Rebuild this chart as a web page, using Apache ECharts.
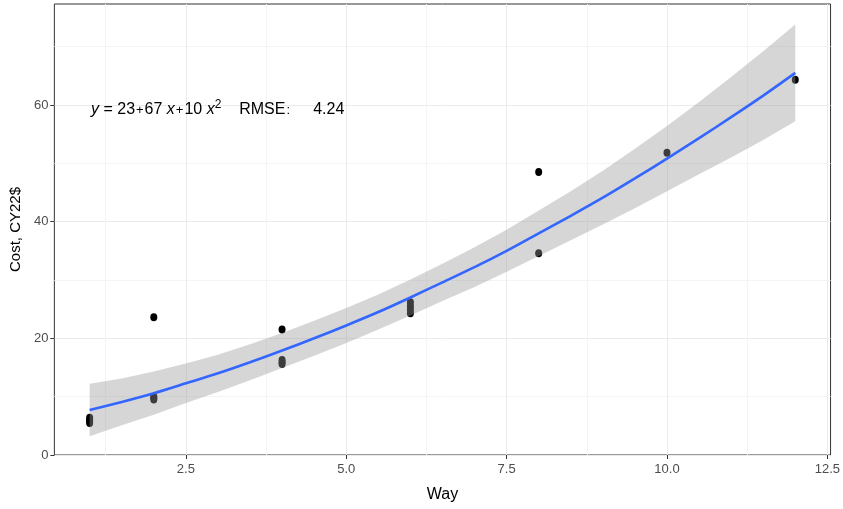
<!DOCTYPE html>
<html>
<head>
<meta charset="utf-8">
<script src="https://cdn.jsdelivr.net/npm/echarts@6/dist/echarts.min.js"></script>
<style>
  html, body { margin: 0; padding: 0; background: #fff; }
  #main { width: 843px; height: 509px; }
</style>
</head>
<body>
<div id="main"></div>
<script>
// observed points (Way, Cost)
var pointWay  = [1, 1, 1, 1, 2, 2, 2, 2, 4, 4, 4, 4, 6, 6, 6, 6, 8, 8, 10, 12];
var pointCost = [5.5, 5.8, 6.1, 6.4, 9.5, 9.8, 10.0, 23.6, 15.6, 15.9, 16.3, 21.5,
                 24.3, 24.9, 25.5, 26.2, 48.5, 34.6, 51.8, 64.3];

// fitted curve and confidence band
var fitWay = [1, 1.5, 2, 2.5, 3, 3.5, 4, 4.5, 5, 5.5, 6, 6.5, 7, 7.5, 8, 8.5, 9, 9.5, 10, 10.5, 11, 11.5, 12];
var fitCost = [7.7, 9.1, 10.6, 12.3, 14.0, 15.9, 17.9, 20.0, 22.2, 24.5, 27.0, 29.6,
               32.2, 35.0, 38.0, 41.0, 44.1, 47.4, 50.8, 54.3, 57.9, 61.6, 65.5];
var bandLower = [3.2, 5.1, 6.9, 8.9, 10.8, 12.8, 14.9, 17.0, 19.2, 21.5, 23.9, 26.4,
                 28.8, 31.4, 34.1, 36.8, 39.5, 42.3, 45.2, 48.1, 51.0, 54.0, 57.2];
var bandUpper = [12.2, 13.1, 14.3, 15.7, 17.2, 19.0, 20.9, 23.0, 25.2, 27.5, 30.1, 32.8,
                 35.6, 38.6, 41.9, 45.2, 48.7, 52.5, 56.4, 60.5, 64.8, 69.2, 73.8];

var xTicks = [2.5, 5.0, 7.5, 10.0, 12.5];
var xMinor = [1.25, 3.75, 6.25, 8.75, 11.25];
var yTicks = [0, 20, 40, 60];
var yMinor = [10, 30, 50, 70];

var chart = echarts.init(document.getElementById("main"));

var labelFont = "'Liberation Sans Narrow', 'Liberation Sans', Arial, sans-serif";
var gridColor = "#ebebeb";

var scatterData = pointWay.map(function (w, i) { return [w, pointCost[i]]; });
var fitData = fitWay.map(function (w, i) { return [w, fitCost[i]]; });
var bandData = fitWay.map(function (w, i) { return [w, bandLower[i], bandUpper[i]]; });

var option = {
  animation: false,
  backgroundColor: "#fff",
  grid: {
    left: 53, top: 4, right: 11, bottom: 54,
    show: true, borderColor: "#333", borderWidth: 1, backgroundColor: "#fff"
  },
  title: {
    left: 86, top: 94,
    text: "{i|y} = 23{p|+}67 {i|x}{p|+}10 {i|x}{s|2}    RMSE{p|:}     4.24",
    textStyle: {
      fontFamily: labelFont, fontSize: 16, color: "#000", fontWeight: "normal",
      rich: {
        i: { fontFamily: labelFont, fontSize: 16, fontStyle: "italic", color: "#000" },
        p: { fontFamily: labelFont, fontSize: 13, color: "#000", padding: [0, 1, 0, 1] },
        s: { fontFamily: labelFont, fontSize: 12, color: "#000", verticalAlign: "top", padding: [0, 0, 10, 0] }
      }
    }
  },
  xAxis: [{
    type: "value", min: 0.45, max: 12.55,
    name: "Way", nameLocation: "middle", nameGap: 32,
    nameTextStyle: { fontFamily: labelFont, fontSize: 16, color: "#000" },
    axisLine: { show: false },
    axisTick: { show: true, length: 4, customValues: xTicks, lineStyle: { color: "#333" } },
    axisLabel: {
      customValues: xTicks, margin: 8, color: "#4d4d4d", fontFamily: labelFont, fontSize: 13,
      formatter: function (v) { return v.toFixed(1); }
    },
    splitLine: { show: true, lineStyle: { color: gridColor, width: 1 } }
  }, {
    type: "value", min: 0.45, max: 12.55, position: "top",
    axisLine: { show: false },
    axisTick: { show: false, customValues: xMinor },
    axisLabel: { show: false, customValues: xMinor },
    splitLine: { show: true, lineStyle: { color: "#f4f4f4", width: 1 } }
  }],
  yAxis: [{
    type: "value", min: 0, max: 77.3,
    name: "Cost, CY22$", nameLocation: "middle", nameGap: 27,
    nameTextStyle: { fontFamily: "'Liberation Sans', Arial, sans-serif", fontSize: 15, color: "#000" },
    axisLine: { show: false },
    axisTick: { show: true, length: 4, customValues: yTicks, lineStyle: { color: "#333" } },
    axisLabel: { customValues: yTicks, margin: 6, color: "#4d4d4d", fontFamily: labelFont, fontSize: 13 },
    splitLine: { show: true, lineStyle: { color: gridColor, width: 1 } }
  }, {
    type: "value", min: 0, max: 77.3, position: "right",
    axisLine: { show: false },
    axisTick: { show: false, customValues: yMinor },
    axisLabel: { show: false, customValues: yMinor },
    splitLine: { show: true, lineStyle: { color: "#f4f4f4", width: 1 } }
  }],
  series: [{
    type: "scatter",
    data: scatterData,
    symbol: "circle",
    symbolSize: [7, 8],
    itemStyle: { color: "#000", opacity: 1 },
    z: 3
  }, {
    type: "custom",
    data: bandData,
    encode: { x: 0, y: [1, 2] },
    clip: true,
    z: 4,
    renderItem: function (params, api) {
      if (params.dataIndex !== 0) return null;
      var pts = [];
      for (var i = 0; i < fitWay.length; i++) pts.push(api.coord([fitWay[i], bandUpper[i]]));
      for (var j = fitWay.length - 1; j >= 0; j--) pts.push(api.coord([fitWay[j], bandLower[j]]));
      return {
        type: "polygon",
        shape: { points: pts },
        style: { fill: "rgba(153,153,153,0.4)", stroke: null }
      };
    }
  }, {
    type: "line",
    data: fitData,
    smooth: 0.3,
    showSymbol: false,
    lineStyle: { color: "#3366FF", width: 2.6 },
    z: 5
  }]
};

chart.setOption(option);
</script>
</body>
</html>
